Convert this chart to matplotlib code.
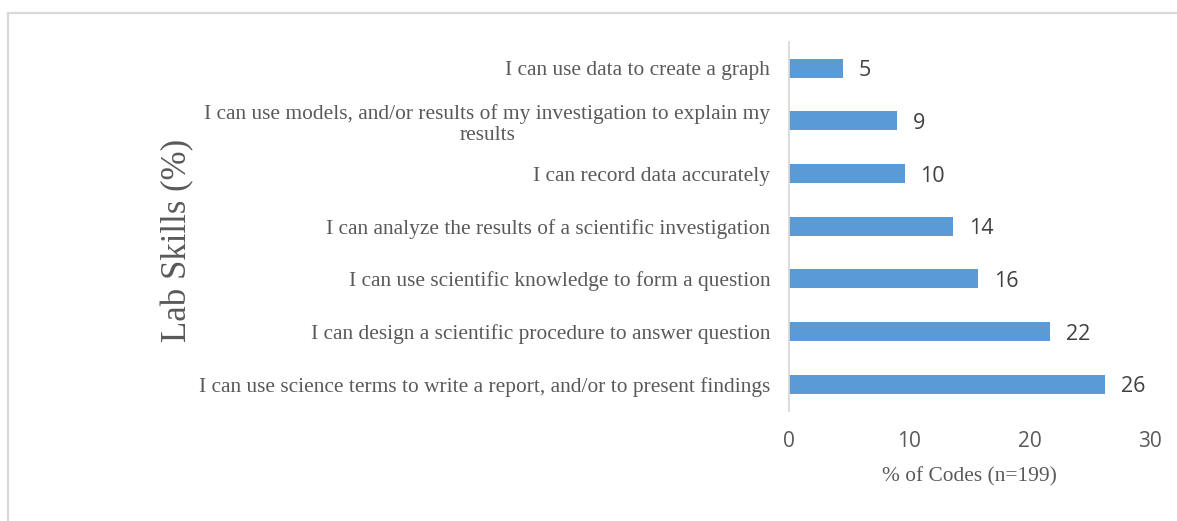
import matplotlib
matplotlib.use("Agg")
import matplotlib.pyplot as plt
from matplotlib.lines import Line2D

categories = [
    "I can use data to create a graph",
    "I can use models, and/or results of my investigation to explain my\nresults",
    "I can record data accurately",
    "I can analyze the results of a scientific investigation",
    "I can use scientific knowledge to form a question",
    "I can design a scientific procedure to answer question",
    "I can use science terms to write a report, and/or to present findings",
]
values = [4.5, 9.0, 9.6, 13.6, 15.7, 21.7, 26.3]
value_labels = ["5", "9", "10", "14", "16", "22", "26"]
x_ticks = [0, 10, 20, 30]
x_label = "% of Codes (n=199)"
y_label = "Lab Skills (%)"

W, H = 1177, 521
fig = plt.figure(figsize=(W / 100, H / 100), dpi=100)
fig.patch.set_facecolor("white")

# outer frame (top and left edges visible)
fig.add_artist(Line2D([7.5 / W, 1.0], [1 - 12.5 / H, 1 - 12.5 / H],
                      transform=fig.transFigure, color="#D9D9D9", lw=1.6))
fig.add_artist(Line2D([7.5 / W, 7.5 / W], [0.0, 1 - 12.5 / H],
                      transform=fig.transFigure, color="#D9D9D9", lw=1.6))

left, right = 789 / W, 1150 / W
top, bottom = 1 - 42 / H, 1 - 410.5 / H
ax = fig.add_axes([left, bottom, right - left, top - bottom])

ypos = list(range(len(categories)))
bars = ax.barh(ypos, values, height=0.36, color="#5B9BD5")
ax.set_ylim(len(categories) - 0.5, -0.5)
ax.set_xlim(x_ticks[0], x_ticks[-1])

ax.set_yticks(ypos)
ax.set_yticklabels(categories, fontfamily="Liberation Serif", fontsize=15.4,
                   color="#595959", multialignment="center", linespacing=1.12)
ax.tick_params(axis="y", length=0, pad=13.5)

ax.set_xticks(x_ticks)
ax.set_xticklabels([str(t) for t in x_ticks], fontfamily="Open Sans",
                   fontsize=15, color="#595959")
ax.tick_params(axis="x", length=0, pad=15)

for s in ["top", "right", "bottom"]:
    ax.spines[s].set_visible(False)
ax.spines["left"].set_color("#D9D9D9")
ax.spines["left"].set_linewidth(1.3)

texts = ax.bar_label(bars, labels=value_labels, padding=11.5, fontsize=15.5,
                     color="#404040", fontfamily="Open Sans")
for t in texts:
    t.set_verticalalignment("center_baseline")

ax.set_xlabel(x_label, fontfamily="Liberation Serif", fontsize=15.4,
              color="#595959", va="center")
ax.xaxis.set_label_coords(0.5, -(476.7 - 410.5) / (410.5 - 42))

fig.text(178 / W, 1 - 240 / H, y_label, rotation=90, ha="center", va="center",
         fontfamily="Liberation Serif", fontsize=25, color="#595959")

fig.savefig("out.png", dpi=100, facecolor="white")
